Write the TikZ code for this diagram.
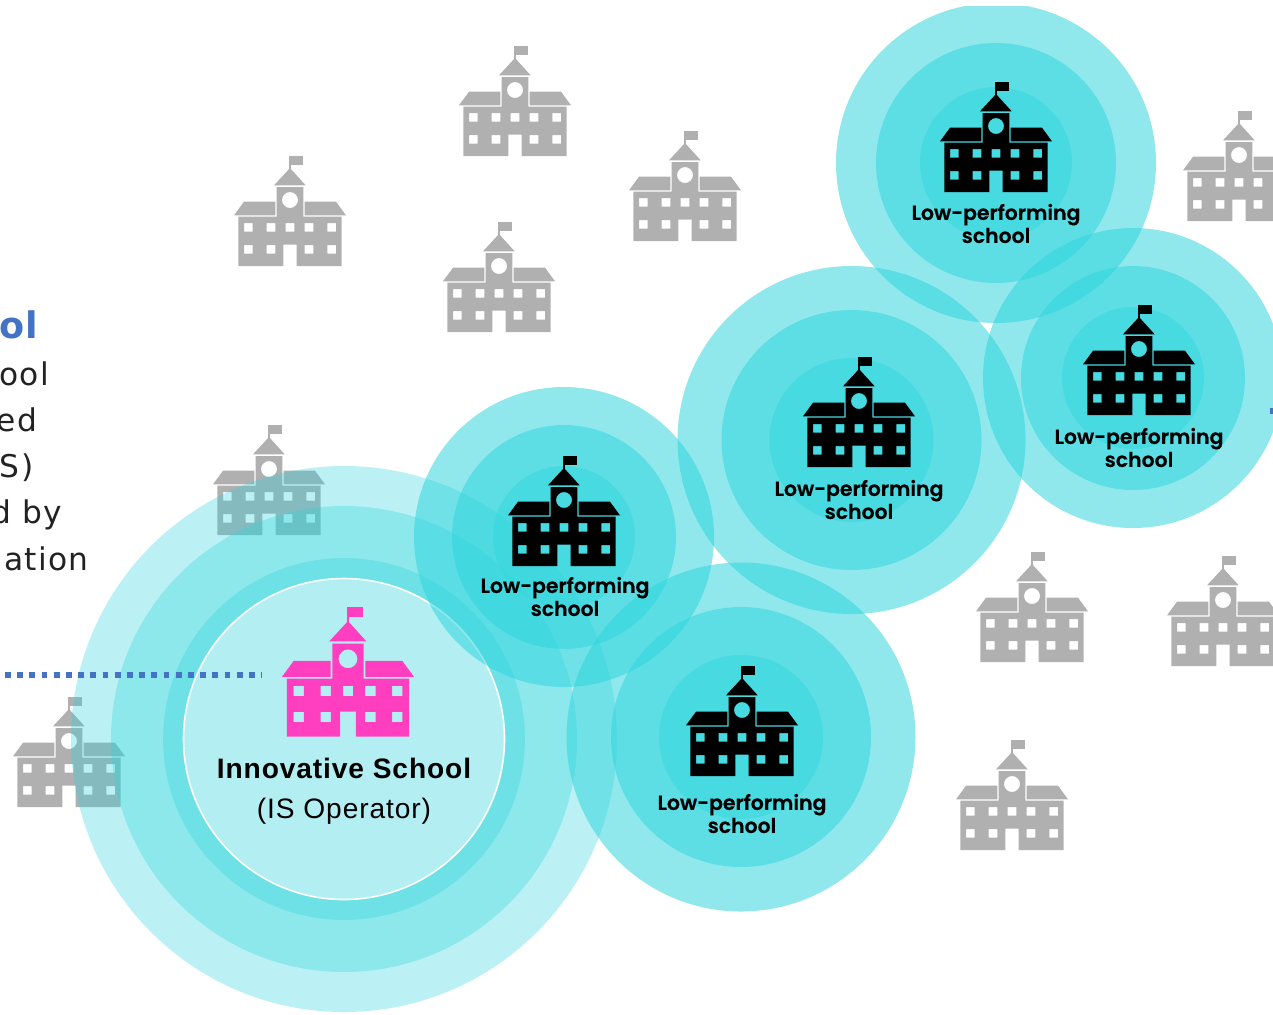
\documentclass[tikz,border=0pt]{standalone}
\usepackage{fontspec}
\setmainfont{Liberation Sans}
\newfontfamily\labelfont[FakeBold=0.3]{Poppins SemiBold}
\newfontfamily\sidefont[LetterSpace=4]{DejaVu Sans}
\newfontfamily\isfont[LetterSpace=3.2]{Liberation Sans}
\usetikzlibrary{positioning}
\definecolor{ringcyan}{HTML}{2DD4DC}
\definecolor{schoolgrey}{HTML}{B0B0B0}
\definecolor{schoolpink}{HTML}{FF3FBF}
\definecolor{sideblue}{HTML}{4472C4}
\definecolor{sidetext}{HTML}{222222}
\tikzset{
	school/.pic={
		\path[pic actions] (-1,-109.7) rectangle (12.7,-101.3);
		\path[pic actions] (-1,-109.7) rectangle (0.7,-89);
		\path[pic actions] (-16,-80.7) -- (15.7,-80.7) -- (0,-98) -- cycle;
		\path[pic actions] (-56,-50.7) -- (-46,-64.3) -- (-14.7,-64.3) -- (-14.7,-50.7) -- cycle;
		\path[pic actions] (56,-50.7) -- (46,-64.3) -- (14.7,-64.3) -- (14.7,-50.7) -- cycle;
		\path[pic actions, even odd rule] (-51.7,0) -- (-51.7,-49.3) -- (-13.3,-49.3) -- (-13.3,-79) -- (13.3,-79) -- (13.3,-49.3) -- (51.7,-49.3) -- (51.7,0) -- (6.7,0) -- (6.7,-21.3) -- (-6.7,-21.3) -- (-6.7,0) -- cycle
			(0,-66) circle[radius=8]
			(-46,-43) rectangle (-37.3,-34.3)
			(-23.3,-43) rectangle (-14.6,-34.3)
			(-4.35,-43) rectangle (4.35,-34.3)
			(14.6,-43) rectangle (23.3,-34.3)
			(37.3,-43) rectangle (46,-34.3)
			(-46,-21) rectangle (-37.3,-12.3)
			(-23.3,-21) rectangle (-14.6,-12.3)
			(14.6,-21) rectangle (23.3,-12.3)
			(37.3,-21) rectangle (46,-12.3);
	},
	greyschool/.style={fill=schoolgrey},
	blackschool/.style={fill=black},
	pinkschool/.style={fill=schoolpink, scale=1.18},
	ringouter/.style={fill=ringcyan, fill opacity=0.53},
	ringmid/.style={fill=ringcyan, fill opacity=0.52},
	ringinner/.style={fill=ringcyan, fill opacity=0.42},
	bigring/.style={fill=ringcyan, fill opacity=0.32},
	lowlabel/.style={align=center, inner sep=0, font=\labelfont\fontsize{5.8}{6.55}\selectfont},
	sidelabel/.style={anchor=base east, inner sep=0, text=sidetext, font=\sidefont\fontsize{8.9}{10}\selectfont},
	islabel/.style={anchor=base, inner sep=0, font=\isfont\fontsize{8}{10}\selectfont},
	dotline/.style={sideblue, line width=1.7pt, dash pattern=on 1.65pt off 1.82pt}
}
\begin{document}
\begin{tikzpicture}[x=0.01cm,y=-0.01cm]
	\useasboundingbox (0,0) rectangle (1273,1014);

	\pic[greyschool] (grey1) at (515,156) {school};
	\pic[greyschool] (grey2) at (290,266) {school};
	\pic[greyschool] (grey3) at (685,241) {school};
	\pic[greyschool] (grey4) at (499,332) {school};
	\pic[greyschool] (grey5) at (1239,221) {school};
	\pic[greyschool] (grey6) at (269,535) {school};
	\pic[greyschool] (grey7) at (69,807) {school};
	\pic[greyschool] (grey8) at (1032,662) {school};
	\pic[greyschool] (grey9) at (1223,666) {school};
	\pic[greyschool] (grey10) at (1012,850) {school};

	\fill[bigring] (344,739) circle[radius=273];
	\fill[bigring] (344,739) circle[radius=233];
	\fill[bigring] (344,739) circle[radius=181];
	\filldraw[fill=white, fill opacity=0.48, draw=white, line width=0.45pt] (344,739) circle[radius=160.5];

	\begin{scope}
		\clip (0,6) rectangle (1273,1014);
		\fill[ringouter] (996,163) circle[radius=160];
	\end{scope}
	\fill[ringmid] (996,163) circle[radius=120];
	\fill[ringinner] (996,163) circle[radius=76];

	\fill[ringouter] (1133,378) circle[radius=150];
	\fill[ringmid] (1133,378) circle[radius=112];
	\fill[ringinner] (1133,378) circle[radius=71];

	\fill[ringouter] (851.5,440) circle[radius=174];
	\fill[ringmid] (851.5,440) circle[radius=130];
	\fill[ringinner] (851.5,440) circle[radius=82];

	\fill[ringouter] (564,537) circle[radius=150];
	\fill[ringmid] (564,537) circle[radius=112];
	\fill[ringinner] (564,537) circle[radius=71];

	\fill[ringouter] (741,737) circle[radius=174.5];
	\fill[ringmid] (741,737) circle[radius=130];
	\fill[ringinner] (741,737) circle[radius=82];

	\pic[blackschool] (low1) at (996,192) {school};
	\pic[blackschool] (low2) at (1139,415) {school};
	\pic[blackschool] (low3) at (859,467) {school};
	\pic[blackschool] (low4) at (564,566) {school};
	\pic[blackschool] (low5) at (742,776) {school};
	\pic[pinkschool] (innov) at (348,736.7) {school};

	\node[lowlabel] (lowtext1) at (996,223.5) {Low-performing\\school};
	\node[lowlabel] (lowtext2) at (1139,447.5) {Low-performing\\school};
	\node[lowlabel] (lowtext3) at (859,499.5) {Low-performing\\school};
	\node[lowlabel] (lowtext4) at (565,596.5) {Low-performing\\school};
	\node[lowlabel] (lowtext5) at (742,813.5) {Low-performing\\school};

	\node[islabel] (innovtext) at (344,778) {\bfseries Innovative School};
	\node[islabel] (optext) at (344,818) {(IS Operator)};

	\node[sidelabel, text=sideblue, font=\sidefont\bfseries\fontsize{10.4}{11}\selectfont] (side1) at (39,338) {ol};
	\node[sidelabel] (side2) at (49.5,385) {ool};
	\node[sidelabel] (side3) at (38,431.5) {ed};
	\node[sidelabel] (side4) at (34,477.5) {S)};
	\node[sidelabel] (side5) at (62.5,523.5) {d by};
	\node[sidelabel] (side6) at (89,570) {ation};

	\coordinate (dotstart) at (5,675);
	\coordinate (dotend) at (262,675);
	\coordinate (dotright) at (1269.5,411);
	\coordinate (dotrightend) at (1285,411);
	\draw[dotline] (dotstart) -- (dotend);
	\draw[dotline] (dotright) -- (dotrightend);
\end{tikzpicture}
\end{document}
